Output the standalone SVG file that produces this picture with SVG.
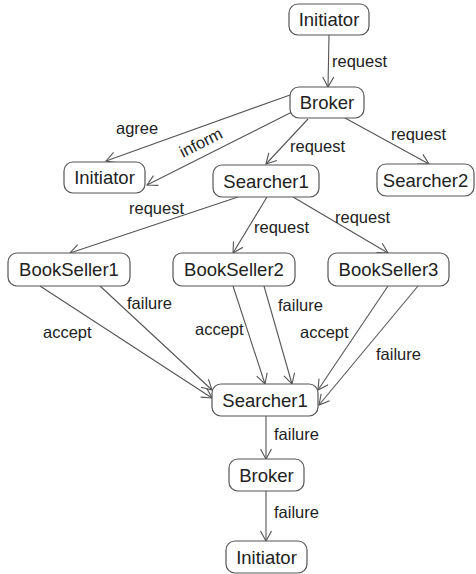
<svg xmlns="http://www.w3.org/2000/svg" width="476" height="574" viewBox="0 0 476 574">
  <defs>
    <style>
      .node rect { fill: #ffffff; stroke: #555555; stroke-width: 1.2; }
      .node text { font-family: "Liberation Sans", Arial, sans-serif; font-size: 18.5px; fill: #222222; text-anchor: middle; }
      .edge { fill: none; stroke: #555555; stroke-width: 1.1; marker-end: url(#arrow); }
      .label { font-family: "Liberation Sans", Arial, sans-serif; font-size: 16.5px; fill: #222222; }
    </style>
    <marker id="arrow" markerUnits="userSpaceOnUse" markerWidth="14" markerHeight="14" refX="11" refY="6" orient="auto">
      <path d="M1,0.5 L11,6 L1,11.5" fill="none" stroke="#555555" stroke-width="1.1"/>
    </marker>
  </defs>
  <rect width="476" height="574" fill="#ffffff"/>

  <!-- connectors -->
  <g id="connectors">
    <line class="edge" x1="329" y1="35" x2="328" y2="87"/>
    <line class="edge" x1="290" y1="95" x2="106" y2="161"/>
    <line class="edge" x1="292" y1="112" x2="147" y2="185"/>
    <line class="edge" x1="308" y1="119" x2="266" y2="164"/>
    <line class="edge" x1="345" y1="118" x2="429" y2="164"/>
    <line class="edge" x1="238" y1="197" x2="70" y2="253"/>
    <line class="edge" x1="267" y1="197" x2="233" y2="253"/>
    <line class="edge" x1="293" y1="197" x2="388" y2="253"/>
    <line class="edge" x1="40" y1="286" x2="212" y2="398"/>
    <line class="edge" x1="100" y1="286" x2="212" y2="390"/>
    <line class="edge" x1="233" y1="286" x2="265" y2="384"/>
    <line class="edge" x1="264" y1="286" x2="292" y2="384"/>
    <line class="edge" x1="388" y1="286" x2="318" y2="390"/>
    <line class="edge" x1="418" y1="286" x2="319" y2="405"/>
    <line class="edge" x1="266" y1="416" x2="266" y2="459"/>
    <line class="edge" x1="266" y1="491" x2="266" y2="541"/>

    <text class="label" x="332" y="67">request</text>
    <text class="label" x="116" y="134">agree</text>
    <text class="label" x="183" y="158" transform="rotate(-27 183 158)">inform</text>
    <text class="label" x="290" y="152">request</text>
    <text class="label" x="391" y="140">request</text>
    <text class="label" x="129" y="214">request</text>
    <text class="label" x="254" y="233">request</text>
    <text class="label" x="335" y="223">request</text>
    <text class="label" x="127" y="309">failure</text>
    <text class="label" x="43" y="338">accept</text>
    <text class="label" x="195" y="335">accept</text>
    <text class="label" x="278" y="311">failure</text>
    <text class="label" x="300" y="338">accept</text>
    <text class="label" x="376" y="360">failure</text>
    <text class="label" x="274" y="440">failure</text>
    <text class="label" x="274" y="518">failure</text>
  </g>

  <!-- nodes -->
  <g id="initiator-top" class="node">
    <rect x="289" y="4" width="80" height="31" rx="9"/>
    <text x="329" y="26">Initiator</text>
  </g>
  <g id="broker-top" class="node">
    <rect x="290" y="87" width="74" height="31" rx="9"/>
    <text x="327" y="109">Broker</text>
  </g>
  <g id="initiator-left" class="node">
    <rect x="64" y="162" width="81" height="31" rx="9"/>
    <text x="104.5" y="184">Initiator</text>
  </g>
  <g id="searcher1-top" class="node">
    <rect x="213" y="165" width="106" height="32" rx="9"/>
    <text x="266" y="187.5">Searcher1</text>
  </g>
  <g id="searcher2" class="node">
    <rect x="377" y="164" width="97" height="32" rx="9"/>
    <text x="425.5" y="186.5">Searcher2</text>
  </g>
  <g id="bookseller1" class="node">
    <rect x="8" y="253" width="122" height="33" rx="9"/>
    <text x="69" y="276">BookSeller1</text>
  </g>
  <g id="bookseller2" class="node">
    <rect x="173" y="253" width="122" height="33" rx="9"/>
    <text x="234" y="276">BookSeller2</text>
  </g>
  <g id="bookseller3" class="node">
    <rect x="328" y="253" width="121" height="33" rx="9"/>
    <text x="388.5" y="276">BookSeller3</text>
  </g>
  <g id="searcher1-bottom" class="node">
    <rect x="212" y="384" width="106" height="32" rx="9"/>
    <text x="265" y="406.5">Searcher1</text>
  </g>
  <g id="broker-bottom" class="node">
    <rect x="229" y="459" width="75" height="32" rx="9"/>
    <text x="266.5" y="481.5">Broker</text>
  </g>
  <g id="initiator-bottom" class="node">
    <rect x="226" y="541" width="81" height="32" rx="9"/>
    <text x="266.5" y="563.5">Initiator</text>
  </g>
</svg>
